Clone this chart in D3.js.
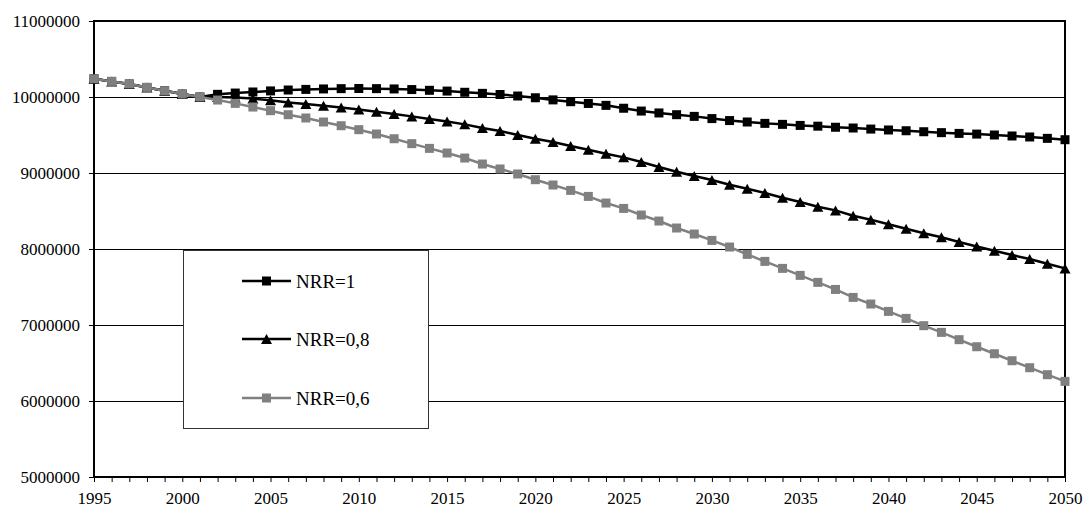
<!DOCTYPE html>
<html>
<head>
<meta charset="utf-8">
<script src="https://cdn.jsdelivr.net/npm/d3@7"></script>
<style>
  html, body { margin: 0; padding: 0; background: #fff; }
  svg { display: block; }
  text { font-family: "Liberation Serif", "Times New Roman", serif; fill: #000; }
</style>
</head>
<body>
<svg id="chart" width="1084" height="509"></svg>
<script>
// Population projections by net reproduction rate, 1995–2050
const years = d3.range(1995, 2051);

const nrr1 = [
  10240000, 10205000, 10171000, 10126000, 10083000, 10039000, 10000000,
  10035000, 10052000, 10066000, 10080000, 10092000, 10100000, 10106000, 10110000,
  10112000, 10110000, 10106000, 10098000, 10088000, 10078000, 10062000, 10048000,
  10033000, 10013000, 9990000, 9962000, 9938000, 9915000, 9890000, 9852000,
  9815000, 9790000, 9767000, 9745000, 9716000, 9690000, 9671000, 9653000,
  9640000, 9626000, 9616000, 9602000, 9592000, 9578000, 9566000, 9556000,
  9543000, 9531000, 9521000, 9512000, 9500000, 9487000, 9474000, 9456000, 9438000
];

const nrr08 = [
  10240000, 10205000, 10171000, 10126000, 10083000, 10039000, 10000000,
  10000000, 9995000, 9980000, 9956000, 9929000, 9908000, 9885000, 9862000,
  9835000, 9807000, 9776000, 9745000, 9710000, 9679000, 9640000, 9592000,
  9553000, 9500000, 9451000, 9408000, 9355000, 9307000, 9254000, 9206000,
  9145000, 9079000, 9017000, 8961000, 8908000, 8846000, 8793000, 8737000,
  8675000, 8618000, 8557000, 8508000, 8438000, 8386000, 8325000, 8267000,
  8207000, 8154000, 8092000, 8034000, 7978000, 7921000, 7868000, 7807000, 7745000
];

const nrr06 = [
  10240000, 10205000, 10171000, 10126000, 10083000, 10039000, 10000000,
  9960000, 9916000, 9868000, 9820000, 9767000, 9724000, 9671000, 9622000,
  9570000, 9513000, 9451000, 9386000, 9324000, 9263000, 9197000, 9118000,
  9053000, 8987000, 8912000, 8842000, 8771000, 8692000, 8605000, 8534000,
  8447000, 8368000, 8276000, 8197000, 8113000, 8026000, 7929000, 7837000,
  7745000, 7653000, 7561000, 7468000, 7363000, 7276000, 7179000, 7087000,
  6991000, 6903000, 6807000, 6714000, 6622000, 6530000, 6438000, 6346000, 6258000
];

const seriesNames = ["NRR=1", "NRR=0,8", "NRR=0,6"];
const yTicks = [5000000, 6000000, 7000000, 8000000, 9000000, 10000000, 11000000];
const xLabelYears = [1995, 2000, 2005, 2010, 2015, 2020, 2025, 2030, 2035, 2040, 2045, 2050];

const series = [
  { name: seriesNames[0], values: nrr1, color: "#000000", marker: "square" },
  { name: seriesNames[1], values: nrr08, color: "#000000", marker: "triangle" },
  { name: seriesNames[2], values: nrr06, color: "#808080", marker: "square" }
];

const svg = d3.select("#chart");
const plot = { left: 94, right: 1065, top: 21, bottom: 477 };

const x = d3.scaleLinear().domain([1995, 2050]).range([plot.left, plot.right]);
const y = d3.scaleLinear().domain([5000000, 11000000]).range([plot.bottom, plot.top]);

// Horizontal gridlines
svg.append("g")
  .selectAll("line")
  .data(yTicks.filter(v => v > 5000000 && v < 11000000))
  .join("line")
  .attr("x1", plot.left).attr("x2", plot.right)
  .attr("y1", d => Math.round(y(d)) + 0.5).attr("y2", d => Math.round(y(d)) + 0.5)
  .attr("stroke", "#000").attr("stroke-width", 1);

// Y axis: ticks and labels
const yAxis = d3.axisLeft(y)
  .tickValues(yTicks)
  .tickFormat(d3.format("d"))
  .tickSize(5)
  .tickPadding(9);
const gy = svg.append("g")
  .attr("transform", `translate(${plot.left},0)`)
  .call(yAxis);
gy.select(".domain").remove();
gy.selectAll(".tick line").attr("stroke", "#000");
gy.selectAll(".tick text")
  .attr("font-size", 17).attr("fill", "#000");

// X axis: one tick per year, labels every five years
const xAxis = d3.axisBottom(x)
  .tickValues(years)
  .tickFormat(d => xLabelYears.includes(d) ? String(d) : "")
  .tickSize(5)
  .tickPadding(10);
const gx = svg.append("g")
  .attr("transform", `translate(0,${plot.bottom})`)
  .call(xAxis);
gx.select(".domain").remove();
gx.selectAll(".tick line").attr("stroke", "#000");
gx.selectAll(".tick text")
  .attr("font-size", 17).attr("fill", "#000");

// Plot frame
svg.append("rect")
  .attr("x", plot.left).attr("y", plot.top)
  .attr("width", plot.right - plot.left).attr("height", plot.bottom - plot.top)
  .attr("fill", "none").attr("stroke", "#000").attr("stroke-width", 2);

// Markers
const sq = 9;
function drawMarker(sel, type, color) {
  if (type === "square") {
    sel.append("rect")
      .attr("x", -sq / 2).attr("y", -sq / 2)
      .attr("width", sq).attr("height", sq)
      .attr("fill", color);
  } else {
    const w = 11, h = 10;
    sel.append("path")
      .attr("d", `M0,${-h / 2}L${w / 2},${h / 2}L${-w / 2},${h / 2}Z`)
      .attr("fill", color);
  }
}

const line = d3.line()
  .x((d, i) => x(years[i]))
  .y(d => y(d));

series.forEach(s => {
  const g = svg.append("g");
  g.append("path")
    .datum(s.values)
    .attr("d", line)
    .attr("fill", "none")
    .attr("stroke", s.color)
    .attr("stroke-width", 2.5);
  g.selectAll("g.m")
    .data(s.values)
    .join("g")
    .attr("class", "m")
    .attr("transform", (d, i) => `translate(${x(years[i])},${y(d)})`)
    .each(function () { drawMarker(d3.select(this), s.marker, s.color); });
});

// Legend
const legend = svg.append("g");
legend.append("rect")
  .attr("x", 183.5).attr("y", 250.5).attr("width", 245).attr("height", 178)
  .attr("fill", "#fff").attr("stroke", "#333").attr("stroke-width", 1);

const legendRows = [281, 339, 398];
series.forEach((s, i) => {
  const row = legend.append("g").attr("transform", `translate(0,${legendRows[i]})`);
  row.append("line")
    .attr("x1", 242).attr("x2", 291).attr("y1", 0).attr("y2", 0)
    .attr("stroke", s.color).attr("stroke-width", 2.5);
  const m = row.append("g").attr("transform", "translate(266.5,0)");
  drawMarker(m, s.marker, s.color);
  row.append("text")
    .attr("x", 296).attr("y", 0).attr("dy", "0.35em")
    .attr("font-size", 19)
    .text(s.name);
});
</script>
</body>
</html>
